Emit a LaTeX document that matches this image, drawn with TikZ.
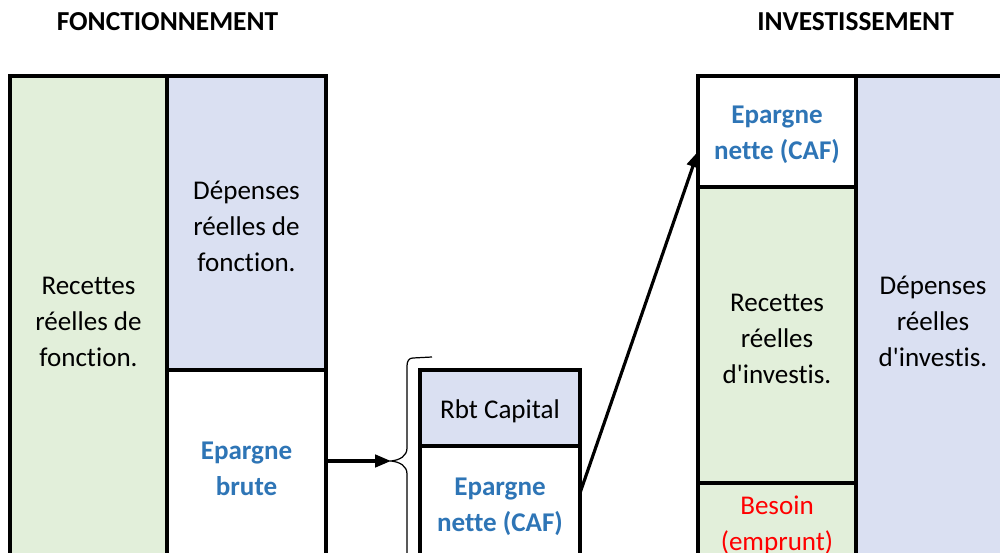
\documentclass[tikz,border=0pt]{standalone}
\usepackage{fontspec}
\setmainfont{Carlito}[Ligatures={TeX,NoCommon}]
\usepackage{xcolor}
\definecolor{cGreen}{HTML}{E2EFDA}
\definecolor{cBlue}{HTML}{DAE0F2}
\definecolor{cSave}{HTML}{2E75B6}
\definecolor{cNeed}{HTML}{FF0000}
\usetikzlibrary{fit,arrows.meta}
\tikzset{
  cell/.style={draw=black,line width=2.3pt,inner sep=0pt,outer sep=0pt},
  cell-recette/.style={cell,fill=cGreen},
  cell-depense/.style={cell,fill=cBlue},
  cell-epargne/.style={cell,fill=white},
  cell-besoin/.style={cell,fill=cGreen},
  txt/.style={align=center,yshift=-2pt,font=\fontsize{15.4}{20.5}\selectfont},
  txt-epargne/.style={txt,text=cSave,font=\bfseries\fontsize{15.4}{20.5}\selectfont},
  txt-besoin/.style={txt,text=cNeed},
  title/.style={font=\bfseries\fontsize{15.6}{18}\selectfont},
  arrow/.style={-{Triangle[length=9pt,width=7pt]},line width=1.8pt},
  accolade/.style={line width=0.7pt},
}

\begin{document}
\begin{tikzpicture}[x=0.02cm,y=-0.02cm]
  \useasboundingbox (0,0) rectangle (1000,553);
  \clip (0,0) rectangle (1000,553);
  % titres
  \node[title] (titleF) at (167.5,22) {FONCTIONNEMENT};
  \node[title] (titleI) at (855.5,22) {INVESTISSEMENT};
  % section de fonctionnement
  \node[cell-recette,fit={(10,76) (167,560)},
    label={[txt]center:Recettes\\réelles de\\fonction.}] (recF) {};
  \node[cell-depense,fit={(167,76) (326,370)},
    label={[txt]center:Dépenses\\réelles de\\fonction.}] (depF) {};
  \node[cell-epargne,fit={(167,370) (326,560)},
    label={[txt-epargne]center:Epargne\\brute}] (epB) {};
  % remboursement et epargne nette
  \node[cell-depense,fit={(420,370) (580,446)},
    label={[txt]center:Rbt Capital}] (rbt) {};
  \node[cell-epargne,fit={(420,446) (580,560)},
    label={[txt-epargne]center:Epargne\\nette (CAF)}] (epN) {};
  % section d'investissement
  \node[cell-epargne,fit={(698,76) (856,187)},
    label={[txt-epargne]center:Epargne\\nette (CAF)}] (epI) {};
  \node[cell-recette,fit={(698,187) (856,483)},
    label={[txt]center:Recettes\\réelles\\d\textquotesingle investis.}] (recI) {};
  \node[cell-besoin,fit={(698,483) (856,560)},
    label={[txt-besoin]center:Besoin\\(emprunt)}] (bes) {};
  \node[cell-depense,fit={(856,76) (1010,560)},
    label={[txt]center:Dépenses\\réelles\\d\textquotesingle investis.}] (depI) {};
  % accolade
  \coordinate (tip) at (391,461);
  \draw[accolade] (432,357) -- (413,358)
    .. controls (409,358) and (407,361) .. (407,366) -- (407,448)
    .. controls (407,456) and (400,460) .. (tip)
    .. controls (400,462) and (407,466) .. (407,474) -- (407,556)
    .. controls (407,561) and (409,564) .. (413,564) -- (432,565);
  % fleches
  \draw[arrow] (tip -| epB.east) -- (tip);
  \draw[arrow] ([yshift=0.2cm]epN.east) -- ([yshift=-0.4cm]epI.west);
\end{tikzpicture}
\end{document}
